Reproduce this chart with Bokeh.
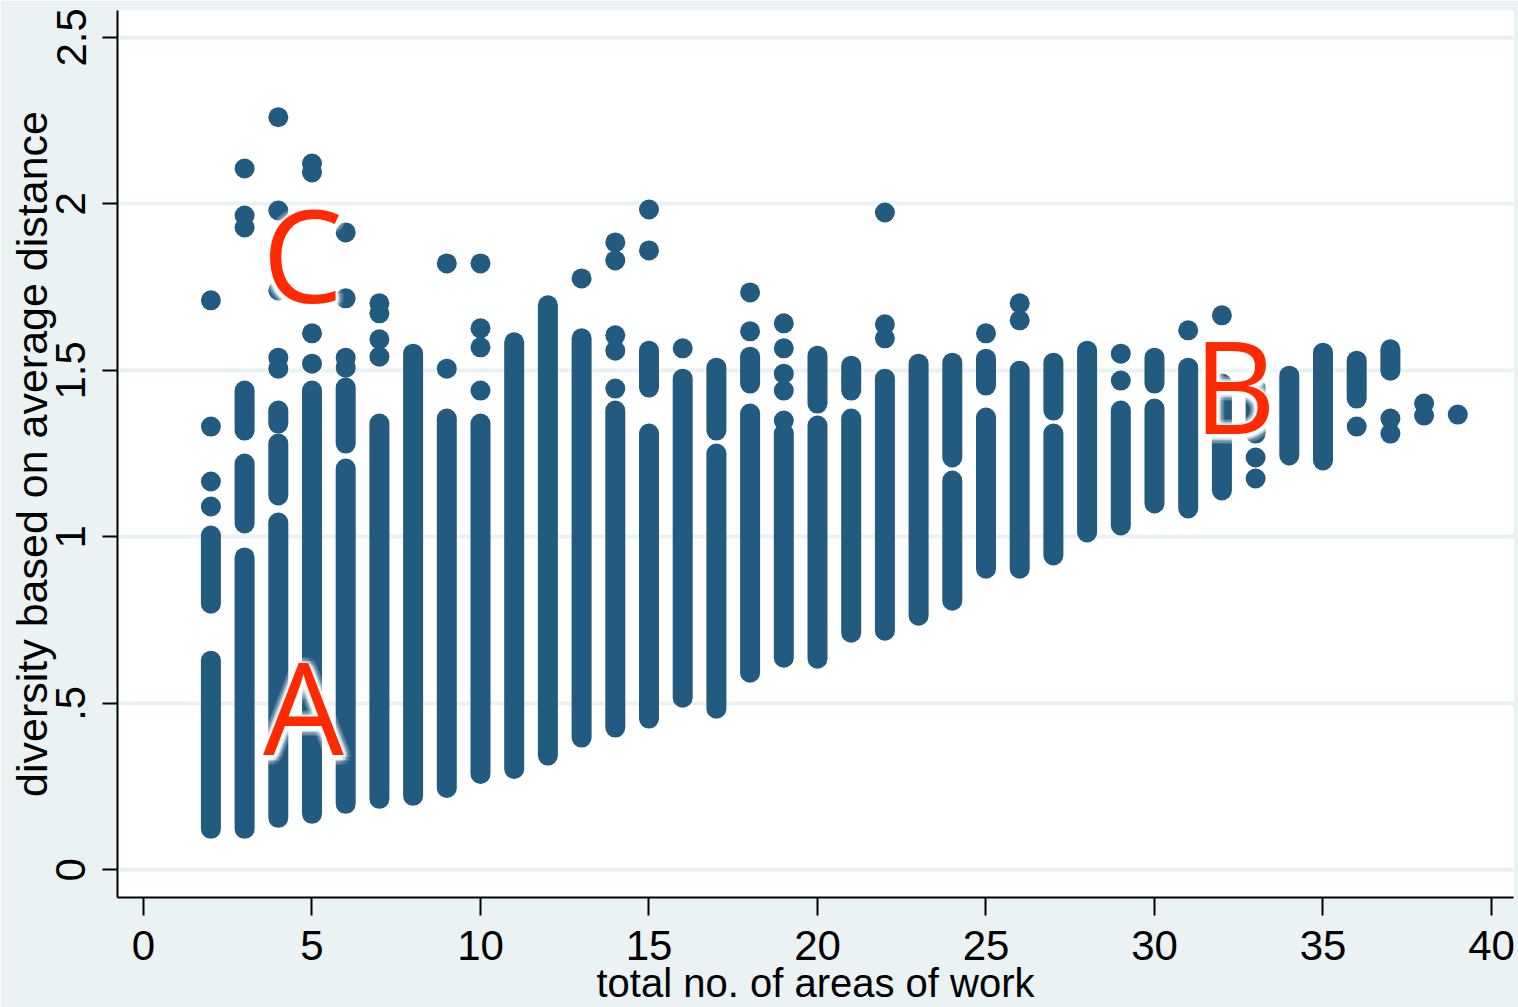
import math
from bokeh.plotting import figure
from bokeh.models import Range1d, FixedTicker, ColumnDataSource
from bokeh.core.properties import value
from bokeh.embed import file_html
from bokeh.resources import INLINE

# ---------------- data ----------------
# dense runs of overlapping observations (x = total no. of areas, lo/hi = diversity range)
run_x = [2, 2,
         3, 3, 3,
         4, 4, 4,
         5,
         6, 6,
         7, 8, 9, 10, 11, 12, 13, 14,
         15, 15,
         16,
         17, 17,
         18, 18,
         19,
         20, 20,
         21, 21,
         22, 23,
         24, 24,
         25, 25,
         26,
         27, 27,
         28, 29,
         30, 30,
         31, 32, 33, 34, 35, 36, 37]
run_lo = [0.799, 0.123,
          1.319, 1.040, 0.123,
          1.340, 1.124, 0.156,
          0.168,
          1.280, 0.198,
          0.213, 0.222, 0.246, 0.288, 0.303, 0.343, 0.397, 0.427,
          1.448, 0.454,
          0.517,
          1.319, 0.484,
          1.460, 0.592,
          0.637,
          1.400, 0.634,
          1.439, 0.712,
          0.718, 0.763,
          1.238, 0.808,
          1.454, 0.904,
          0.904,
          1.379, 0.944,
          1.013, 1.034,
          1.460, 1.100,
          1.085, 1.139, 1.310, 1.244, 1.229, 1.415, 1.499]
run_hi = [1.004, 0.628,
          1.439, 1.220, 0.938,
          1.379, 1.280, 1.043,
          1.439,
          1.448, 1.205,
          1.340, 1.550, 1.355, 1.340, 1.584, 1.695, 1.596, 1.379,
          1.559, 1.310,
          1.475,
          1.508, 1.250,
          1.541, 1.370,
          1.310,
          1.544, 1.334,
          1.514, 1.355,
          1.475, 1.520,
          1.523, 1.169,
          1.535, 1.358,
          1.499,
          1.523, 1.310,
          1.559, 1.379,
          1.538, 1.385,
          1.508, 1.460, 1.448, 1.484, 1.553, 1.529, 1.563]

# isolated observations
pt_x = [2, 2, 2, 2,
        3, 3, 3,
        4, 4, 4, 4, 4,
        5, 5, 5, 5,
        6, 6, 6, 6,
        7, 7, 7, 7,
        9, 9,
        10, 10, 10, 10,
        13,
        14, 14, 14, 14, 14,
        15, 15,
        16,
        18, 18,
        19, 19, 19, 19, 19,
        22, 22, 22,
        25,
        26, 26,
        29, 29,
        31, 32,
        33, 33,
        36,
        37, 37,
        38, 38,
        39]
pt_y = [1.710, 1.331, 1.166, 1.091,
        2.106, 1.965, 1.929,
        2.260, 1.980, 1.740, 1.538, 1.505,
        2.121, 2.094, 1.611, 1.520,
        1.914, 1.716, 1.538, 1.508,
        1.701, 1.671, 1.593, 1.541,
        1.821, 1.505,
        1.821, 1.626, 1.569, 1.439,
        1.776,
        1.884, 1.830, 1.605, 1.559, 1.445,
        1.983, 1.860,
        1.566,
        1.734, 1.617,
        1.641, 1.566, 1.490, 1.439, 1.349,
        1.974, 1.638, 1.596,
        1.611,
        1.701, 1.650,
        1.550, 1.469,
        1.620, 1.665,
        1.238, 1.175,
        1.331,
        1.355, 1.310,
        1.400, 1.364,
        1.367]

x_ticks = [0, 5, 10, 15, 20, 25, 30, 35, 40]
y_ticks = [0, 0.5, 1, 1.5, 2, 2.5]
y_tick_labels = ["0", ".5", "1", "1.5", "2", "2.5"]

letter_text = ["C", "A", "B"]
letter_x = [4.72, 4.75, 32.38]
letter_y = [1.706, 0.349, 1.314]

x_title = "total no. of areas of work"
y_title = "diversity based on average distance"

# ---------------- styles ----------------
BG = "#EAF2F3"
MARK = "#235B80"
RED = "#FF2A00"
FONT = "Liberation Sans"
LETTER_SHIFT = -48  # compensates the renderer's baseline placement

p = figure(width=1518, height=1007, output_backend="svg", toolbar_location=None,
           x_range=Range1d(-0.7715, 40.653), y_range=Range1d(-0.0832, 2.5805),
           min_border_left=117, min_border_right=5, min_border_top=10, min_border_bottom=110)
p.border_fill_color = BG
p.background_fill_color = "white"
p.outline_line_color = None

# grid
p.xgrid.grid_line_color = None
p.ygrid.ticker = FixedTicker(ticks=y_ticks)
p.ygrid.grid_line_color = BG
p.ygrid.grid_line_width = 4

# axes
p.xaxis.ticker = FixedTicker(ticks=x_ticks)
p.yaxis.ticker = FixedTicker(ticks=y_ticks)
p.yaxis.major_label_overrides = {t: l for t, l in zip(y_ticks, y_tick_labels)}
for ax in (p.xaxis[0], p.yaxis[0]):
    ax.axis_line_color = "black"
    ax.axis_line_width = 2
    ax.major_tick_line_color = "black"
    ax.major_tick_line_width = 2
    ax.major_tick_in = 0
    ax.minor_tick_line_color = None
    ax.major_label_text_font = FONT
    ax.major_label_text_font_size = "42px"
    ax.major_label_text_color = "black"
    ax.axis_label_text_font = FONT
    ax.axis_label_text_font_style = "normal"
    ax.axis_label_text_color = "black"

p.xaxis.major_tick_out = 18
p.xaxis.major_label_standoff = 15
p.xaxis.axis_label = x_title
p.xaxis.axis_label_text_font_size = "40px"
p.xaxis.axis_label_standoff = -2

p.yaxis.major_tick_out = 15
p.yaxis.major_label_orientation = "vertical"
p.yaxis.major_label_standoff = 17
p.yaxis.axis_label = y_title
p.yaxis.axis_label_text_font_size = "43px"
p.yaxis.axis_label_standoff = -2

# data marks
runs = ColumnDataSource(dict(x=run_x, lo=run_lo, hi=run_hi))
p.segment(x0="x", y0="lo", x1="x", y1="hi", source=runs,
          line_color=MARK, line_width=20, line_cap="round")
pts = ColumnDataSource(dict(x=pt_x, y=pt_y))
p.scatter(x="x", y="y", source=pts, size=20, marker="circle",
          fill_color=MARK, line_color=None)

# annotation letters with a soft white glow
lab = ColumnDataSource(dict(x=letter_x, y=letter_y, t=letter_text))
for r, a in ((8, 0.12), (5, 0.22), (3, 0.35)):
    for k in range(12):
        ang = 2 * math.pi * k / 12
        p.text(x="x", y="y", text="t", source=lab,
               x_offset=r * math.cos(ang), y_offset=r * math.sin(ang) + 2 + LETTER_SHIFT,
               text_font=value("Open Sans"), text_font_size="128px",
               text_align="center", text_baseline="alphabetic",
               text_color="white", text_alpha=a)
p.text(x="x", y="y", text="t", source=lab, y_offset=LETTER_SHIFT,
       text_font=value("Open Sans"), text_font_size="128px",
       text_align="center", text_baseline="alphabetic", text_color=RED)

open("out.html", "w").write(file_html(p, INLINE))
